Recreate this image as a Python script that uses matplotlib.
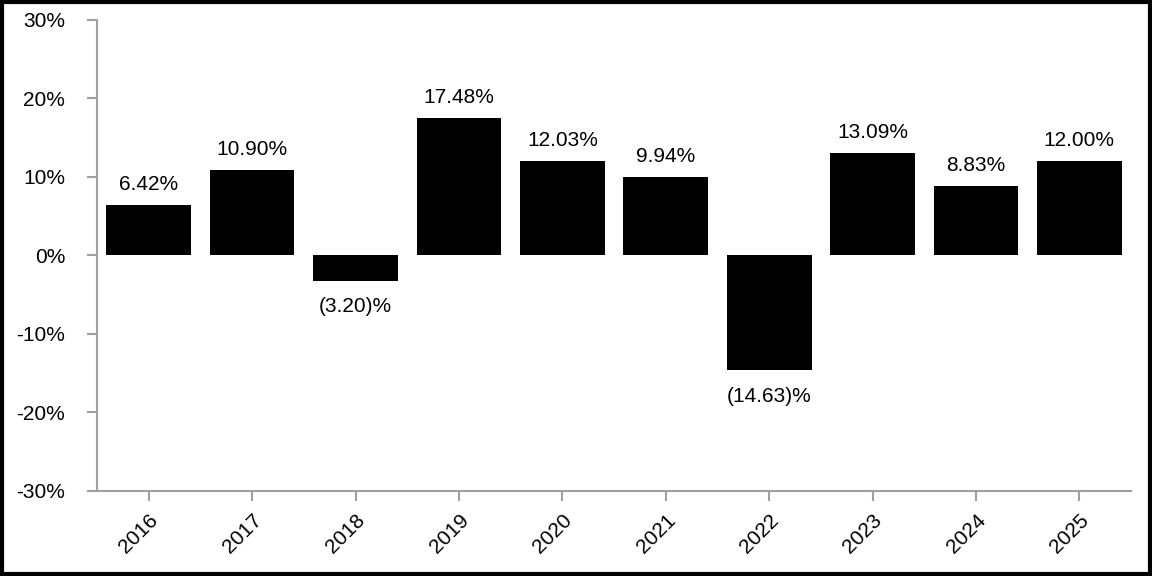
import matplotlib.pyplot as plt
from matplotlib.patches import Rectangle

plt.rcParams['font.family'] = ['Liberation Sans', 'DejaVu Sans']

years = ['2016', '2017', '2018', '2019', '2020', '2021', '2022', '2023', '2024', '2025']
returns = [6.42, 10.90, -3.20, 17.48, 12.03, 9.94, -14.63, 13.09, 8.83, 12.00]
yticks = [-30, -20, -10, 0, 10, 20, 30]

fig = plt.figure(figsize=(11.52, 5.76), dpi=100)
ax = fig.add_axes([0.0842, 0.1476, 0.8976, 0.8177])

x = list(range(len(years)))
ax.bar(x, returns, width=0.82, color='black')

for xi, v in zip(x, returns):
    if v >= 0:
        txt = f'{v:.2f}%'
        ax.annotate(txt, (xi, v), xytext=(0, 8), textcoords='offset points',
                    ha='center', va='bottom', fontsize=15)
    else:
        txt = f'({abs(v):.2f})%'
        ax.annotate(txt, (xi, v), xytext=(0, -12), textcoords='offset points',
                    ha='center', va='top', fontsize=15)

ax.set_xlim(-0.5, len(years) - 0.5)
ax.set_ylim(-30, 30)
ax.set_yticks(yticks)
ax.set_yticklabels([f'{t}%' for t in yticks], fontsize=15)
ax.set_xticks(x)
ax.set_xticklabels(years, rotation=45, ha='right', rotation_mode='anchor', fontsize=15)

for s in ['top', 'right']:
    ax.spines[s].set_visible(False)
for s in ['left', 'bottom']:
    ax.spines[s].set_color('#a0a0a0')
    ax.spines[s].set_linewidth(1.5)
ax.tick_params(axis='both', colors='#a0a0a0', length=7, width=1.5, labelcolor='black')
ax.tick_params(axis='y', pad=16)
ax.tick_params(axis='x', pad=7)

fig.patches.append(Rectangle((0.002, 0.003), 0.996, 0.994, transform=fig.transFigure,
                             fill=False, edgecolor='black', linewidth=3))

fig.savefig('out.png', dpi=100)
